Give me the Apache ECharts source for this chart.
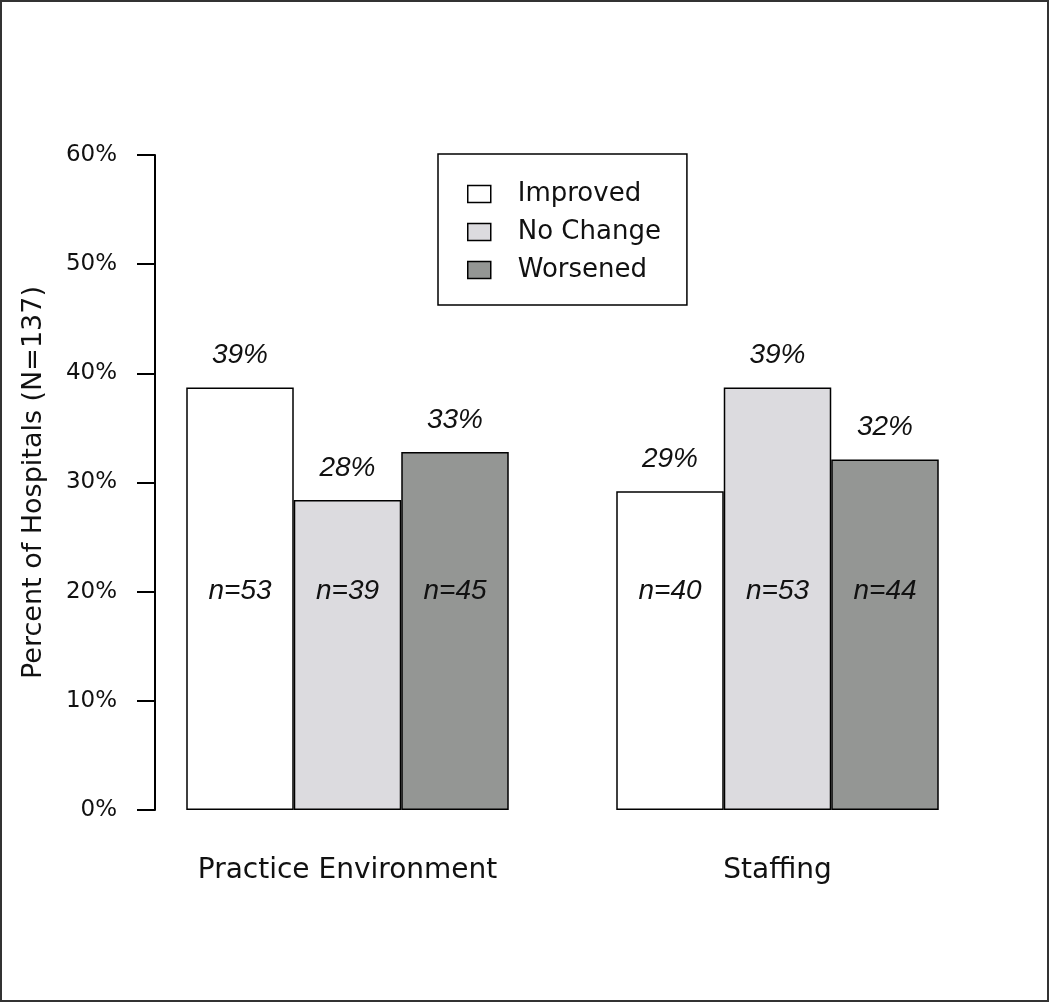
<!DOCTYPE html>
<html>
<head>
<meta charset="utf-8">
<script src="https://cdn.jsdelivr.net/npm/echarts@6/dist/echarts.min.js"></script>
<style>
html,body{margin:0;padding:0;background:#fff;}
#chart{width:1050px;height:1003px;}
</style>
</head>
<body>
<div id="chart"></div>
<script>
// ---- data ----
const categories = ['Practice Environment', 'Staffing'];
const seriesNames = ['Improved', 'No Change', 'Worsened'];
const improvedPct = [38.7, 29.2];
const noChangePct = [28.4, 38.7];
const worsenedPct = [32.8, 32.1];
const improvedN = [53, 40];
const noChangeN = [39, 53];
const worsenedN = [45, 44];
const yTicks = [0, 10, 20, 30, 40, 50, 60];
const nLabelLevel = 20;

const pctSets = [improvedPct, noChangePct, worsenedPct];
const nSets = [improvedN, noChangeN, worsenedN];
const colors = ['#ffffff', '#dcdbdf', '#949694'];

const upright = 'DejaVu Sans';
const italicFont = 'Liberation Sans';

const chart = echarts.init(document.getElementById('chart'));

const series = seriesNames.map((name, i) => ({
  name: name,
  type: 'bar',
  data: pctSets[i],
  barGap: 0,
  barCategoryGap: '25%',
  itemStyle: { color: colors[i], borderColor: '#000', borderWidth: 1.5 },
  label: {
    show: true,
    position: 'top',
    distance: 18,
    formatter: p => Math.round(p.value) + '%',
    fontFamily: italicFont,
    fontStyle: 'italic',
    fontSize: 28,
    color: '#111'
  },
  markPoint: {
    symbol: 'rect',
    symbolSize: 0,
    silent: true,
    label: {
      show: true,
      position: 'inside',
      formatter: '{b}',
      fontFamily: italicFont,
      fontStyle: 'italic',
      fontSize: 28,
      color: '#111'
    },
    data: categories.map((c, j) => ({ name: 'n=' + nSets[i][j], coord: [c, nLabelLevel] }))
  }
}));

chart.setOption({
  animation: false,
  backgroundColor: '#fff',
  grid: { left: 132.5, right: 57.5, top: 155, bottom: 193, containLabel: false, outerBoundsMode: 'none' },
  legend: {
    data: seriesNames,
    orient: 'vertical',
    left: 438,
    top: 154,
    padding: [27, 26, 22, 29],
    itemGap: 12,
    itemWidth: 23,
    itemHeight: 17,
    icon: 'rect',
    borderColor: '#000',
    borderWidth: 1.5,
    backgroundColor: '#fff',
    itemStyle: { borderColor: '#000', borderWidth: 1.5 },
    textStyle: {
      fontFamily: upright,
      fontSize: 26,
      color: '#111',
      padding: [0, 0, 0, 22]
    }
  },
  xAxis: {
    type: 'category',
    data: categories,
    axisLine: { show: false },
    axisTick: { show: false },
    axisLabel: { fontFamily: upright, fontSize: 28, color: '#111', margin: 47 }
  },
  yAxis: {
    type: 'value',
    min: yTicks[0],
    max: yTicks[yTicks.length - 1],
    interval: yTicks[1] - yTicks[0],
    offset: -22.5,
    name: 'Percent of Hospitals (N=137)',
    nameLocation: 'middle',
    nameGap: 108,
    nameTextStyle: { fontFamily: upright, fontSize: 27, color: '#111' },
    axisLine: { show: true, lineStyle: { color: '#000', width: 2 } },
    axisTick: { show: true, length: 18, lineStyle: { color: '#000', width: 2 } },
    splitLine: { show: false },
    axisLabel: { formatter: '{value}%', fontFamily: upright, fontSize: 23, color: '#111', margin: 38 }
  },
  graphic: [{
    type: 'rect',
    shape: { x: 1, y: 1, width: 1047, height: 1000 },
    style: { fill: 'none', stroke: '#333', lineWidth: 2 },
    silent: true,
    z: 100
  }],
  series: series
});
</script>
</body>
</html>
